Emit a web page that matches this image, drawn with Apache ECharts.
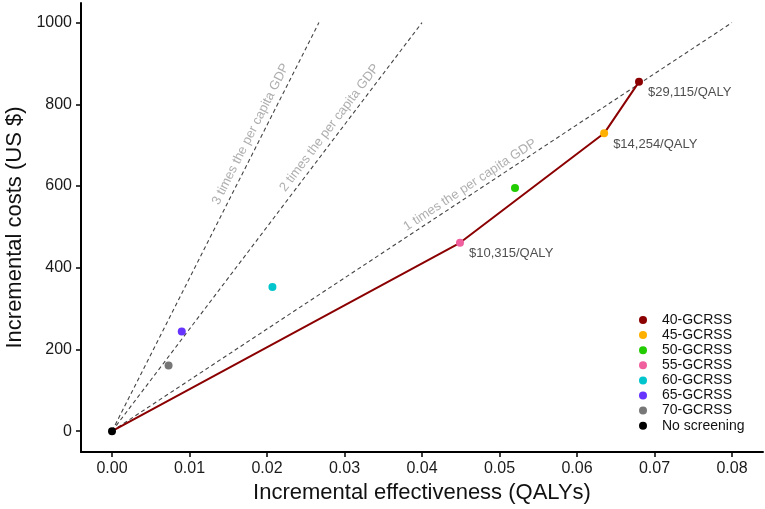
<!DOCTYPE html>
<html>
<head>
<meta charset="utf-8">
<script src="https://cdn.jsdelivr.net/npm/echarts@6/dist/echarts.min.js"></script>
<style>
  html, body { margin: 0; padding: 0; background: #fff; }
  #main { width: 765px; height: 509px; }
</style>
</head>
<body>
<div id="main"></div>
<script>
// strategies, in legend order
var strategies = ['40-GCRSS', '45-GCRSS', '50-GCRSS', '55-GCRSS', '60-GCRSS', '65-GCRSS', '70-GCRSS', 'No screening'];
var effectiveness = [0.0680, 0.0635, 0.0520, 0.0449, 0.0207, 0.0090, 0.0073, 0.0];
var costs = [855, 729, 595, 461, 353, 244, 161, 0];
var colors = ['#8B0000', '#FFB000', '#22CC00', '#F0609E', '#00C5CD', '#6633FF', '#777777', '#000000'];

// cost-effectiveness frontier and its ICERs
var frontier = ['No screening', '55-GCRSS', '45-GCRSS', '40-GCRSS'];
var icerLabels = ['$10,315/QALY', '$14,254/QALY', '$29,115/QALY'];

// willingness-to-pay thresholds (x per capita GDP), drawn up to cost 1000
var gdpMultiples = [1, 2, 3];
var gdpLineEndQaly = [0.08, 0.04, 0.0267];
var gdpLineEndCost = 1000;

var xTicks = [0, 0.01, 0.02, 0.03, 0.04, 0.05, 0.06, 0.07, 0.08];
var yTicks = [0, 200, 400, 600, 800, 1000];

var FONT = 'Liberation Sans, Arial, sans-serif';

function pointOf(name) {
  var i = strategies.indexOf(name);
  return [effectiveness[i], costs[i]];
}

var chart = echarts.init(document.getElementById('main'));

var series = [];

// dashed threshold lines
gdpMultiples.forEach(function (m, i) {
  series.push({
    type: 'line',
    silent: true,
    symbol: 'none',
    data: [[0, 0], [gdpLineEndQaly[i], gdpLineEndCost]],
    lineStyle: { color: '#444', width: 1.1, type: [4, 3] },
    z: 1
  });
});

// labels sitting on the threshold lines (offset is in the rotated frame)
var gdpLabelAt = [0.0468, 0.0291, 0.0191];
var gdpLabelRot = [33.4, 52.8, 63.2];
var gdpLabelOff = [[0, -8.5], [0, -10], [0, -10.5]];
gdpMultiples.forEach(function (m, i) {
  var slope = gdpLineEndCost / gdpLineEndQaly[i];
  series.push({
    type: 'scatter',
    silent: true,
    symbolSize: 0,
    data: [[gdpLabelAt[i], gdpLabelAt[i] * slope]],
    label: {
      show: true,
      position: 'inside',
      formatter: m + ' times the per capita GDP',
      rotate: gdpLabelRot[i],
      offset: gdpLabelOff[i],
      color: '#9a9a9a',
      fontFamily: FONT,
      fontSize: 13
    },
    z: 2
  });
});

// frontier
series.push({
  type: 'line',
  silent: true,
  symbol: 'none',
  data: frontier.map(pointOf),
  lineStyle: { color: '#8B0000', width: 2 },
  z: 3
});

// strategy points
strategies.forEach(function (s, i) {
  series.push({
    name: s,
    type: 'scatter',
    symbol: 'circle',
    symbolSize: 8,
    itemStyle: { color: colors[i], opacity: 1 },
    data: [[effectiveness[i], costs[i]]],
    z: 4
  });
});

// ICER labels
series.push({
  type: 'scatter',
  silent: true,
  symbolSize: 8,
  itemStyle: { color: 'rgba(0,0,0,0)' },
  data: frontier.slice(1).map(pointOf),
  label: {
    show: true,
    position: 'right',
    distance: 5,
    offset: [0, 11],
    formatter: function (p) { return icerLabels[p.dataIndex]; },
    color: '#222',
    fontFamily: FONT,
    fontSize: 13
  },
  z: 5
});

var option = {
  animation: false,
  backgroundColor: '#fff',
  grid: { left: 81, right: 2, top: 3, bottom: 57, containLabel: false, outerBoundsMode: 'none' },
  legend: {
    data: strategies,
    orient: 'vertical',
    left: 634,
    top: 308,
    icon: 'circle',
    itemWidth: 28,
    itemHeight: 8,
    itemGap: 1.1,
    textStyle: { fontFamily: FONT, fontSize: 14, color: '#111', lineHeight: 13 },
    selectedMode: false
  },
  xAxis: {
    type: 'value',
    min: -0.004,
    max: 0.084,
    name: 'Incremental effectiveness (QALYs)',
    nameLocation: 'middle',
    nameGap: 27,
    nameTextStyle: { fontFamily: FONT, fontSize: 22, color: '#111' },
    axisLine: { show: true, onZero: false, lineStyle: { color: '#000', width: 2 } },
    axisTick: { show: true, length: 5, customValues: xTicks, lineStyle: { color: '#000', width: 1.5 } },
    axisLabel: {
      customValues: xTicks,
      margin: 9,
      fontFamily: FONT,
      fontSize: 16,
      color: '#1a1a1a',
      formatter: function (v) { return v.toFixed(2); }
    },
    splitLine: { show: false }
  },
  yAxis: {
    type: 'value',
    min: -51,
    max: 1048,
    name: 'Incremental costs (US $)',
    nameLocation: 'middle',
    nameGap: 50,
    nameTextStyle: { fontFamily: FONT, fontSize: 22, color: '#111' },
    axisLine: { show: true, onZero: false, lineStyle: { color: '#000', width: 2 } },
    axisTick: { show: true, length: 5, customValues: yTicks, lineStyle: { color: '#000', width: 1.5 } },
    axisLabel: {
      customValues: yTicks,
      margin: 9,
      fontFamily: FONT,
      fontSize: 16,
      color: '#1a1a1a',
      formatter: function (v) { return String(v); }
    },
    splitLine: { show: false }
  },
  series: series
};

chart.setOption(option);
</script>
</body>
</html>
